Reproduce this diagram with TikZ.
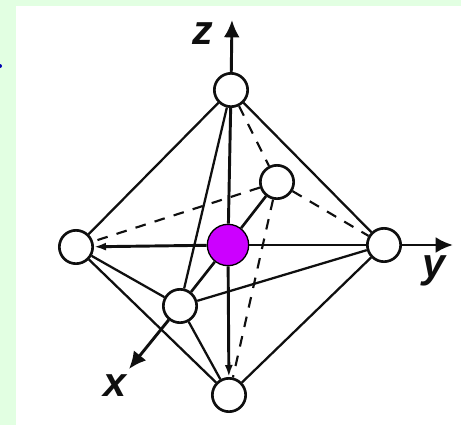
\documentclass[tikz,border=0pt]{standalone}
\usepackage{fontspec}
\setmainfont{Liberation Sans}
\usepackage{tikz}
\usetikzlibrary{arrows.meta,calc}
\definecolor{mint}{RGB}{226,255,226}
\definecolor{violet}{RGB}{204,0,255}
\definecolor{ink}{RGB}{15,15,15}

\begin{document}
\begin{tikzpicture}[x=0.75pt,y=-0.75pt,>={Latex[length=13pt,width=12pt]},
    atom/.style={draw=ink,circle,fill=white,line width=2pt,minimum size=25pt,inner sep=0pt},
    metal/.style={draw=black,circle,fill=violet,line width=1pt,minimum size=31pt,inner sep=0pt},
    bond/.style={draw=ink,line width=1.7pt},
    axis/.style={draw=ink,line width=2.2pt,->},
    hidden/.style={draw=ink,line width=1.6pt,dash pattern=on 8pt off 7pt},
    axlabel/.style={font=\fontsize{31}{31}\selectfont\bfseries\itshape,text=ink,inner sep=0pt}]
    \fill[mint] (0,0) rectangle (461,425);
    \fill[white] (16,6) rectangle (461,425);
    \useasboundingbox (0,0) rectangle (461,425);
    \node[circle,fill=blue!70!black,inner sep=0pt,minimum size=3pt] (tick) at (0,66) {};
    % the six corners and the centre
    \node[atom] (top) at (231,90) {};
    \node[atom] (back) at (277,182) {};
    \node[atom] (left) at (76,247) {};
    \node[atom] (right) at (384,245) {};
    \node[atom] (front) at (180,306) {};
    \node[atom] (bottom) at (229,395) {};
    \node[metal] (mid) at (228,245) {};
    \coordinate (zend) at (232,20);
    \coordinate (yend) at (453,245);
    \coordinate (xend) at (129,369);
    \node[axlabel] (zlab) at (203,34) {z};
    \node[axlabel] (ylab) at (434,271) {y};
    \node[axlabel] (xlab) at (115,386) {x};
    % axes
    \draw[axis] (top)--(zend); \draw[axis] (right)--(yend); \draw[axis] (front)--(xend);
    % through the centre
    \draw[bond,line width=2.2pt] (top)--(mid); \draw[bond,line width=2.2pt,->,>={Latex[length=9pt,width=6pt]}] (mid)--(bottom);
    \draw[bond,line width=2.2pt,->,>={Latex[length=9pt,width=6pt]}] (mid)--(left); \draw[bond,line width=2.2pt] (mid)--(right);
    \draw[bond,line width=2pt] (front)--(mid); \draw[bond,line width=2pt] (mid)--(back);
    % front faces
    \draw[bond] (top)--(left); \draw[bond] (top)--(right); \draw[bond] (top)--(front);
    \draw[bond] (left)--(front); \draw[bond] (left)--(bottom);
    \draw[bond] (front)--(right); \draw[bond] (front)--(bottom); \draw[bond] (right)--(bottom);
    % hidden edges
    \draw[hidden] (top)--(back); \draw[hidden] (back)--(left);
    \draw[hidden] (back)--(right); \draw[hidden] (back)--(bottom);
  \end{tikzpicture}
\end{document}
